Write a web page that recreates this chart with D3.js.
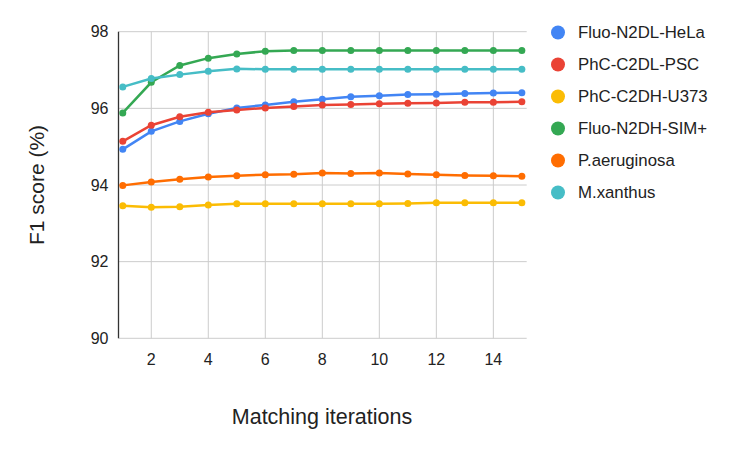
<!DOCTYPE html>
<html><head><meta charset="utf-8">
<script src="https://cdn.jsdelivr.net/npm/d3@7"></script>
<style>body{margin:0;background:#fff;} svg{display:block;font-family:"Liberation Sans",Arial,sans-serif;}</style>
</head><body><svg id="c" width="731" height="452"></svg>
<script>
const iterations = [1,2,3,4,5,6,7,8,9,10,11,12,13,14,15];
const seriesNames = ["Fluo-N2DL-HeLa","PhC-C2DL-PSC","PhC-C2DH-U373","Fluo-N2DH-SIM+","P.aeruginosa","M.xanthus"];
const seriesColors = ["#4285F4","#EA4335","#FBBC04","#34A853","#FF6D01","#46BDC6"];
const fluoHeLa = [94.93,95.40,95.66,95.86,96.01,96.09,96.17,96.24,96.30,96.33,96.36,96.37,96.39,96.40,96.41];
const phcPSC   = [95.14,95.56,95.78,95.90,95.96,96.01,96.05,96.09,96.10,96.12,96.13,96.14,96.16,96.16,96.17];
const phcU373  = [93.46,93.42,93.43,93.48,93.51,93.51,93.51,93.51,93.51,93.51,93.52,93.54,93.54,93.54,93.54];
const fluoSIM  = [95.88,96.68,97.12,97.31,97.42,97.49,97.51,97.51,97.51,97.51,97.51,97.51,97.51,97.51,97.51];
const paerug   = [93.99,94.08,94.15,94.21,94.24,94.27,94.28,94.31,94.30,94.31,94.29,94.27,94.25,94.24,94.23];
const mxanthus = [96.56,96.78,96.88,96.97,97.03,97.02,97.02,97.02,97.02,97.02,97.02,97.02,97.02,97.02,97.02];
const xTicks = [2,4,6,8,10,12,14];
const yTicks = [90,92,94,96,98];
const xTitle = "Matching iterations";
const yTitle = "F1 score (%)";

const allSeries = [fluoHeLa, phcPSC, phcU373, fluoSIM, paerug, mxanthus];
const svg = d3.select("#c");
const L = 118.5, R = 526.7, T = 31.7, B = 338.3;
const x = d3.scaleLinear().domain([0.85, 15.17]).range([L, R]);
const y = d3.scaleLinear().domain([90, 98]).range([B, T]);

const g = svg.append("g");
g.selectAll(".hg").data(yTicks).join("line")
  .attr("x1", L).attr("x2", R).attr("y1", d=>y(d)).attr("y2", d=>y(d))
  .attr("stroke", "#cccccc").attr("stroke-width", 1);
g.selectAll(".vg").data(xTicks).join("line")
  .attr("x1", d=>x(d)).attr("x2", d=>x(d)).attr("y1", T).attr("y2", B)
  .attr("stroke", "#cccccc").attr("stroke-width", 1);
g.append("line").attr("x1", L).attr("x2", L).attr("y1", T).attr("y2", B)
  .attr("stroke", "#333").attr("stroke-width", 1.3);

g.selectAll(".yl").data(yTicks).join("text")
  .attr("x", L - 10).attr("y", d=>y(d)).attr("dy", "0.35em")
  .attr("text-anchor", "end").attr("font-size", 16).attr("fill", "#222")
  .text(d=>d);
g.selectAll(".xl").data(xTicks).join("text")
  .attr("x", d=>x(d)).attr("y", 365)
  .attr("text-anchor", "middle").attr("font-size", 16).attr("fill", "#222")
  .text(d=>d);

svg.append("text").attr("x", 322).attr("y", 424).attr("text-anchor", "middle")
  .attr("font-size", 21.5).attr("fill", "#222").text(xTitle);
svg.append("text").attr("transform", "translate(44,185) rotate(-90)")
  .attr("text-anchor", "middle").attr("font-size", 21).attr("fill", "#222").text(yTitle);

const line = d3.line().x((d,i)=>x(iterations[i])).y(d=>y(d));
allSeries.forEach((s, k) => {
  g.append("path").datum(s).attr("d", line).attr("fill", "none")
    .attr("stroke", seriesColors[k]).attr("stroke-width", 2.5);
  g.selectAll(".p"+k).data(s).join("circle")
    .attr("cx", (d,i)=>x(iterations[i])).attr("cy", d=>y(d)).attr("r", 3.5)
    .attr("fill", seriesColors[k]);
});

const lg = svg.append("g");
seriesNames.forEach((n, k) => {
  const yy = 32.5 + k * 32;
  lg.append("circle").attr("cx", 558).attr("cy", yy).attr("r", 7).attr("fill", seriesColors[k]);
  lg.append("text").attr("x", 578).attr("y", yy).attr("dy", "0.35em")
    .attr("font-size", 16.8).attr("fill", "#222").text(n);
});
</script></body></html>
